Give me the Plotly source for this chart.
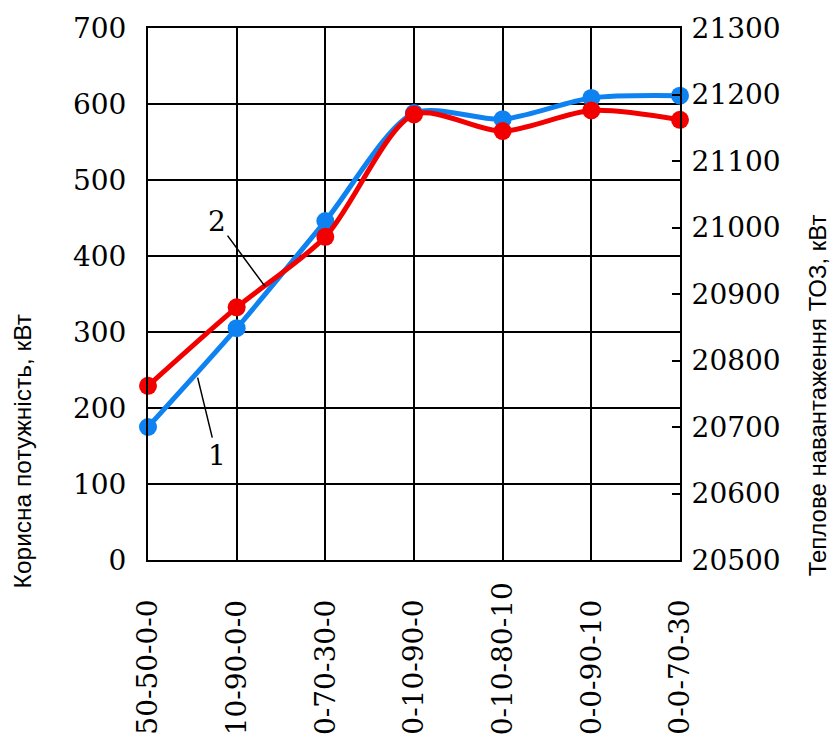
import plotly.graph_objects as go

# Fuel mix variants (share of each component, %)
categories = ["50-50-0-0", "10-90-0-0", "0-70-30-0", "0-10-90-0",
              "0-10-80-10", "0-0-90-10", "0-0-70-30"]
# 1 - useful power, kW (left axis)
useful_power = [175, 305, 446, 588, 580, 608, 611]
# 2 - heat load of the heat exchanger, kW (right axis)
heat_load = [20762, 20880, 20986, 21170, 21145, 21176, 21162]

left_ticks = list(range(0, 701, 100))
right_ticks = list(range(20500, 21301, 100))

BLUE = "#0f82f2"
RED = "#f20000"
SERIF = "DejaVu Serif"
SANS = "Liberation Sans"

fig = go.Figure()
fig.add_trace(go.Scatter(
    x=categories, y=useful_power, mode="lines+markers", name="1",
    line=dict(color=BLUE, width=5, shape="spline", smoothing=0.8),
    marker=dict(color=BLUE, size=18), cliponaxis=False, yaxis="y"))
fig.add_trace(go.Scatter(
    x=categories, y=heat_load, mode="lines+markers", name="2",
    line=dict(color=RED, width=5, shape="spline", smoothing=0.8),
    marker=dict(color=RED, size=18), cliponaxis=False, yaxis="y2"))

fig.update_layout(
    width=836, height=742,
    margin=dict(l=148, r=156, t=25, b=182),
    paper_bgcolor="white", plot_bgcolor="white",
    showlegend=False,
    xaxis=dict(type="category", range=[0, 6], showgrid=True,
               gridcolor="black", gridwidth=2, showline=True,
               linecolor="black", linewidth=2, mirror=True,
               showticklabels=False, ticks="", zeroline=False),
    yaxis=dict(range=[0, 700], tickvals=left_ticks, showgrid=True,
               gridcolor="black", gridwidth=2, showline=True,
               linecolor="black", linewidth=2, ticks="",
               ticklabelstandoff=14, zeroline=False, tickformat="d",
               tickfont=dict(family=SERIF, size=28, color="black")),
    yaxis2=dict(range=[20500, 21300], tickvals=right_ticks,
                overlaying="y", side="right", showgrid=False,
                showline=True, linecolor="black", linewidth=2,
                ticks="inside", ticklen=8, tickwidth=2, tickcolor="black",
                ticklabelstandoff=4, zeroline=False, tickformat="d",
                tickfont=dict(family=SERIF, size=28, color="black")),
)

# Category labels, bottom-aligned below the plot
for c in categories:
    fig.add_annotation(x=c, y=-0.333, xref="x", yref="paper",
                       text=c, textangle=-90, showarrow=False,
                       xanchor="center", yanchor="bottom",
                       font=dict(family=SERIF, size=28, color="black"))

# Axis titles
fig.add_annotation(x=-0.236, y=0.205, xref="paper", yref="paper",
                   text="Корисна потужність, кВт", textangle=-90,
                   showarrow=False, xanchor="center", yanchor="middle",
                   font=dict(family=SANS, size=24.5, color="black"))
fig.add_annotation(x=1.258, y=0.31, xref="paper", yref="paper",
                   text="Теплове навантаження ТОЗ, кВт", textangle=-90,
                   showarrow=False, xanchor="center", yanchor="middle",
                   font=dict(family=SANS, size=24, color="black"))

# Curve numbers with leader lines
fig.add_annotation(x=1.32, y=360, xref="x", yref="y", text="2",
                   showarrow=True, arrowhead=0, arrowwidth=1.5,
                   arrowcolor="black", ax=-48, ay=-65, standoff=0,
                   font=dict(family=SERIF, size=28, color="black"))
fig.add_annotation(x=0.56, y=240, xref="x", yref="y", text="1",
                   showarrow=True, arrowhead=0, arrowwidth=1.5,
                   arrowcolor="black", ax=19, ay=78, standoff=0,
                   font=dict(family=SERIF, size=28, color="black"))

fig.write_html("out.html")
